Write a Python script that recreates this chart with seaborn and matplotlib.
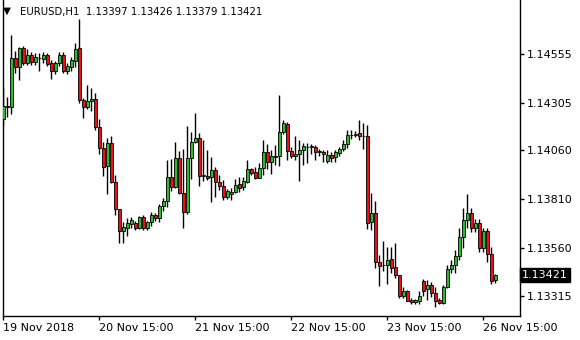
import matplotlib
matplotlib.use("Agg")
import matplotlib.pyplot as plt
import seaborn as sns
import numpy as np
import pandas as pd

# ---------------- data (EURUSD H1) ----------------
symbol = "EURUSD,H1"
header_ohlc = ["1.13397", "1.13426", "1.13379", "1.13421"]

open_ = [1.14222, 1.14288, 1.14283, 1.14534, 1.14488, 1.14586, 1.14509, 1.14550, 1.14514, 1.14534,
         1.14529, 1.14550, 1.14509, 1.14468, 1.14509, 1.14550, 1.14468, 1.14488, 1.14519, 1.14586,
         1.14319, 1.14283, 1.14314, 1.14324, 1.14181, 1.14073, 1.13980, 1.14098, 1.13898, 1.13760,
         1.13647, 1.13662, 1.13683, 1.13688, 1.13662, 1.13719, 1.13662, 1.13693, 1.13729, 1.13714,
         1.13775, 1.13801, 1.13924, 1.13873, 1.14021, 1.13842, 1.13744, 1.14021, 1.14104, 1.14124,
         1.13929, 1.13929, 1.13924, 1.13960, 1.13898, 1.13878, 1.13821, 1.13837, 1.13847, 1.13888,
         1.13873, 1.13898, 1.13965, 1.13950, 1.13919, 1.13970, 1.14052, 1.14001, 1.14032, 1.14032,
         1.14155, 1.14196, 1.14057, 1.14032, 1.14042, 1.14062, 1.14078, 1.14078, 1.14078, 1.14052,
         1.14052, 1.14006, 1.14037, 1.14027, 1.14047, 1.14068, 1.14093, 1.14140, 1.14140, 1.14150,
         1.14134, 1.14134, 1.13693, 1.13739, 1.13488, 1.13473, 1.13473, 1.13503, 1.13462, 1.13421,
         1.13313, 1.13339, 1.13291, 1.13281, 1.13289, 1.13390, 1.13348, 1.13370, 1.13330, 1.13291,
         1.13276, 1.13361, 1.13450, 1.13473, 1.13519, 1.13615, 1.13702, 1.13738, 1.13664, 1.13686,
         1.13558, 1.13647, 1.13529, 1.13397]

high = [1.14386, 1.14334, 1.14652, 1.14570, 1.14591, 1.14596, 1.14581, 1.14565, 1.14560, 1.14560,
        1.14565, 1.14560, 1.14524, 1.14519, 1.14565, 1.14565, 1.14509, 1.14540, 1.14611, 1.14735,
        1.14329, 1.14396, 1.14381, 1.14355, 1.14222, 1.14104, 1.14124, 1.14134, 1.13934, 1.13762,
        1.13693, 1.13714, 1.13719, 1.13698, 1.13724, 1.13729, 1.13698, 1.13744, 1.13739, 1.13785,
        1.13816, 1.14011, 1.14016, 1.14104, 1.14057, 1.14068, 1.14186, 1.14155, 1.14252, 1.14150,
        1.14114, 1.14062, 1.14027, 1.13975, 1.13934, 1.13909, 1.13862, 1.13868, 1.13914, 1.13924,
        1.13924, 1.14011, 1.13970, 1.13975, 1.13996, 1.14114, 1.14093, 1.14062, 1.14088, 1.14345,
        1.14216, 1.14206, 1.14078, 1.14134, 1.14114, 1.14098, 1.14098, 1.14093, 1.14088, 1.14068,
        1.14062, 1.14062, 1.14052, 1.14062, 1.14078, 1.14114, 1.14165, 1.14165, 1.14160, 1.14216,
        1.14201, 1.14191, 1.13842, 1.13801, 1.13524, 1.13596, 1.13566, 1.13565, 1.13585, 1.13423,
        1.13360, 1.13344, 1.13303, 1.13298, 1.13339, 1.13401, 1.13396, 1.13387, 1.13361, 1.13302,
        1.13370, 1.13473, 1.13498, 1.13550, 1.13661, 1.13767, 1.13835, 1.13763, 1.13708, 1.13708,
        1.13664, 1.13661, 1.13566, 1.13426]

low = [1.14191, 1.14232, 1.14247, 1.14457, 1.14422, 1.14499, 1.14499, 1.14499, 1.14499, 1.14468,
       1.14509, 1.14493, 1.14427, 1.14452, 1.14493, 1.14457, 1.14452, 1.14468, 1.14488, 1.14304,
       1.14227, 1.14273, 1.14263, 1.14165, 1.14042, 1.13929, 1.13837, 1.13893, 1.13729, 1.13585,
       1.13585, 1.13621, 1.13662, 1.13652, 1.13657, 1.13652, 1.13652, 1.13673, 1.13698, 1.13693,
       1.13750, 1.13770, 1.13852, 1.13868, 1.13837, 1.13662, 1.13734, 1.13914, 1.14098, 1.13878,
       1.13903, 1.13909, 1.13796, 1.13821, 1.13857, 1.13806, 1.13811, 1.13806, 1.13842, 1.13847,
       1.13857, 1.13893, 1.13934, 1.13914, 1.13917, 1.13934, 1.13965, 1.13939, 1.13986, 1.13980,
       1.14145, 1.14011, 1.14021, 1.14011, 1.13903, 1.13986, 1.13996, 1.14042, 1.14011, 1.14032,
       1.14001, 1.13996, 1.14001, 1.14001, 1.14032, 1.14057, 1.14073, 1.14119, 1.14129, 1.14114,
       1.14068, 1.13657, 1.13652, 1.13457, 1.13365, 1.13442, 1.13375, 1.13431, 1.13406, 1.13303,
       1.13303, 1.13286, 1.13272, 1.13274, 1.13274, 1.13315, 1.13293, 1.13310, 1.13256, 1.13271,
       1.13272, 1.13356, 1.13430, 1.13430, 1.13498, 1.13561, 1.13664, 1.13643, 1.13643, 1.13541,
       1.13541, 1.13489, 1.13374, 1.13379]

close = [1.14288, 1.14283, 1.14534, 1.14488, 1.14586, 1.14509, 1.14550, 1.14514, 1.14540, 1.14532,
         1.14550, 1.14504, 1.14468, 1.14509, 1.14550, 1.14468, 1.14493, 1.14524, 1.14581, 1.14319,
         1.14283, 1.14314, 1.14324, 1.14181, 1.14073, 1.13975, 1.14098, 1.13898, 1.13760, 1.13647,
         1.13668, 1.13688, 1.13703, 1.13662, 1.13719, 1.13662, 1.13693, 1.13729, 1.13714, 1.13775,
         1.13801, 1.13924, 1.13873, 1.14021, 1.13842, 1.13744, 1.14021, 1.14104, 1.14124, 1.13929,
         1.13934, 1.13919, 1.13960, 1.13898, 1.13878, 1.13821, 1.13852, 1.13847, 1.13883, 1.13868,
         1.13903, 1.13965, 1.13945, 1.13919, 1.13970, 1.14052, 1.14001, 1.14032, 1.14029, 1.14155,
         1.14201, 1.14057, 1.14032, 1.14042, 1.14062, 1.14083, 1.14080, 1.14083, 1.14052, 1.14057,
         1.14042, 1.14037, 1.14021, 1.14052, 1.14068, 1.14093, 1.14140, 1.14137, 1.14145, 1.14134,
         1.14132, 1.13688, 1.13739, 1.13488, 1.13467, 1.13471, 1.13497, 1.13457, 1.13421, 1.13313,
         1.13339, 1.13290, 1.13281, 1.13291, 1.13315, 1.13339, 1.13370, 1.13330, 1.13289, 1.13276,
         1.13361, 1.13450, 1.13473, 1.13519, 1.13615, 1.13702, 1.13738, 1.13664, 1.13686, 1.13561,
         1.13647, 1.13529, 1.13392, 1.13421]

price_ticks = [1.14555, 1.14305, 1.14060, 1.13810, 1.13560, 1.13315]
time_labels = ["19 Nov 2018", "20 Nov 15:00", "21 Nov 15:00", "22 Nov 15:00",
               "23 Nov 15:00", "26 Nov 15:00"]
time_label_bars = [0, 24, 48, 72, 96, 120]
last_price = 1.13421

# ---------------- figure ----------------
sns.set_theme(style="white")
plt.rcParams["font.family"] = ["DejaVu Sans"]

df = pd.DataFrame({"open": open_, "high": high, "low": low, "close": close})
df["bar"] = np.arange(len(df))
df["bottom"] = df[["open", "close"]].min(axis=1)
df["height"] = (df["close"] - df["open"]).abs()
GREEN = "#2db82d"
RED = "#e8111a"
df["color"] = np.where(df["close"] >= df["open"], GREEN, RED)

W, H = 580, 340
fig = plt.figure(figsize=(W / 100, H / 100), dpi=100)
ax = fig.add_axes([3 / W, 24 / H, 517 / W, 316 / H])

# wicks
ax.vlines(df["bar"], df["low"], df["high"], color="black", linewidth=1.0, zorder=2)
# bodies
ax.bar(df["bar"], df["height"], bottom=df["bottom"], width=0.72,
       color=df["color"], edgecolor="black", linewidth=0.6, zorder=3)

ax.set_xlim(-0.08, 129.2)
ax.set_ylim(1.13211, 1.14832)

# spines
for s in ["left", "bottom", "right"]:
    ax.spines[s].set_visible(True)
    ax.spines[s].set_color("black")
    ax.spines[s].set_linewidth(1.0)
ax.spines["top"].set_visible(False)
ax.grid(False)

# price axis on the right
ax.yaxis.tick_right()
ax.set_yticks(price_ticks)
ax.set_yticklabels([f"{p:.5f}" for p in price_ticks])
ax.tick_params(axis="y", direction="out", length=3, width=1, color="black",
               pad=2, labelsize=8, labelcolor="black", right=True, left=False)

# time axis
ax.set_xticks(time_label_bars)
ax.set_xticklabels(time_labels, ha="left")
ax.tick_params(axis="x", direction="out", length=3, width=1, color="black",
               pad=2, labelsize=8, labelcolor="black", bottom=True)

# last price marker
ax.text(1.004, last_price, f"{last_price:.5f}", transform=ax.get_yaxis_transform(),
        ha="left", va="center", fontsize=8, color="white",
        bbox=dict(boxstyle="square,pad=0.18", facecolor="black", edgecolor="black"))

# header
fig.text(3 / W, 1 - 11 / H, "\u25BC", fontsize=7.5, va="center", ha="left", color="black")
fig.text(20 / W, 1 - 12 / H, symbol + "  " + " ".join(header_ohlc),
         fontsize=7.3, va="center", ha="left", color="black")

fig.savefig("out.png", dpi=100, facecolor="white")
